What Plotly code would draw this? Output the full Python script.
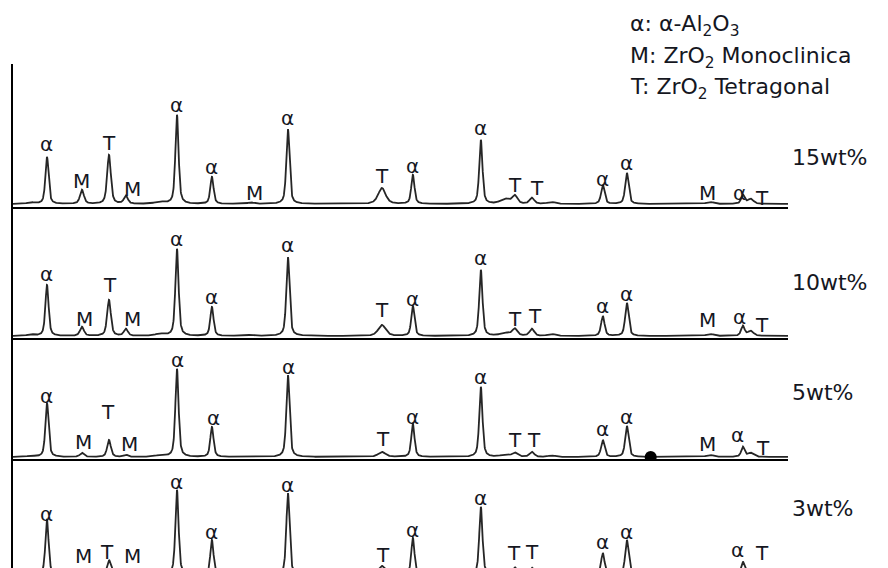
import numpy as np
import plotly.graph_objects as go

# ---------------- data ----------------
samples = ["15wt%", "10wt%", "5wt%", "3wt%"]

# peak positions (2theta, deg) and widths (FWHM, deg)
peak_pos = [24.4, 25.60, 28.17, 30.16, 31.40, 33.9, 35.16, 37.73, 40.6, 43.32,
            50.23, 52.51, 57.51, 59.3, 60.01, 61.26, 62.7, 66.48, 68.25,
            74.35, 76.78, 77.35]
peak_fwhm = [0.6, 0.28, 0.34, 0.32, 0.34, 0.8, 0.28, 0.28, 0.5, 0.28,
             0.65, 0.28, 0.28, 0.8, 0.45, 0.4, 0.6, 0.3, 0.3,
             0.6, 0.3, 0.5]

# peak intensities (a.u.) per sample
int_15 = [1.5, 47, 14, 49, 8, 2, 89, 27, 1.5, 75, 16, 29, 64, 5, 8, 6, 2, 19, 31, 2, 9, 5]
int_10 = [1.5, 51, 9, 36, 7, 2, 87, 29, 1.0, 79, 11, 30, 66, 3, 7, 7, 2, 20, 33, 2, 10, 5]
int_5 = [1.0, 54, 4, 17, 2, 1.5, 88, 30, 0.5, 82, 5, 33, 70, 2, 4, 5, 1.5, 17, 31, 2, 10, 4]
int_3 = [1.0, 55, 4, 15, 2, 1.5, 85, 35, 0.5, 82, 9, 37, 68, 2, 7, 7, 1.5, 22, 35, 1.5, 13, 4]
intensities = [int_15, int_10, int_5, int_3]

# artefact dot on the 5wt% pattern
dot_x = [70.0]
dot_y = [0.0]

# phase labels: (symbol, 2theta, height in a.u.)
labels_15 = [("α", 25.60, 60), ("M", 28.17, 23), ("T", 30.16, 61), ("M", 31.92, 15),
             ("α", 35.16, 99), ("α", 37.73, 37), ("M", 40.89, 11), ("α", 43.32, 86),
             ("T", 50.23, 28), ("α", 52.51, 38), ("α", 57.51, 76), ("T", 60.01, 19),
             ("T", 61.63, 16), ("α", 66.48, 25), ("α", 68.25, 41), ("M", 74.20, 11),
             ("α", 76.56, 11), ("T", 78.17, 6)]
labels_10 = [("α", 25.60, 62), ("M", 28.39, 17), ("T", 30.23, 51), ("M", 31.92, 17),
             ("α", 35.16, 97), ("α", 37.73, 39), ("α", 43.32, 91), ("T", 50.23, 26),
             ("α", 52.51, 37), ("α", 57.51, 78), ("T", 60.01, 17), ("T", 61.48, 20),
             ("α", 66.48, 30), ("α", 68.25, 42), ("M", 74.20, 16), ("α", 76.56, 19),
             ("T", 78.17, 11)]
labels_5 = [("α", 25.60, 61), ("M", 28.25, 15), ("T", 30.09, 45), ("M", 31.70, 13),
            ("α", 35.23, 97), ("α", 37.81, 39), ("α", 43.39, 90), ("T", 50.31, 18),
            ("α", 52.51, 40), ("α", 57.51, 80), ("T", 60.01, 17), ("T", 61.41, 17),
            ("α", 66.48, 28), ("α", 68.25, 40), ("M", 74.20, 13), ("α", 76.41, 22),
            ("T", 78.25, 9)]
labels_3 = [("α", 25.60, 61), ("M", 28.25, 19), ("T", 30.01, 23), ("M", 31.92, 19),
            ("α", 35.16, 93), ("α", 37.73, 43), ("α", 43.32, 90), ("T", 50.31, 20),
            ("α", 52.51, 45), ("α", 57.51, 77), ("T", 59.94, 22), ("T", 61.26, 23),
            ("α", 66.48, 33), ("α", 68.25, 43), ("α", 76.41, 25), ("T", 78.17, 22)]
all_labels = [labels_15, labels_10, labels_5, labels_3]

legend_lines = ["α: α-Al<sub>2</sub>O<sub>3</sub>",
                "M: ZrO<sub>2</sub> Monoclinica",
                "T: ZrO<sub>2</sub> Tetragonal"]

# ---------------- figure ----------------
W, H = 888, 568
ML, MR = 13, 100
x_range = [23.1, 80.1]
two_theta = np.linspace(x_range[0], x_range[1], 4000)


def pattern(heights):
    y = np.zeros_like(two_theta)
    for p, w, h in zip(peak_pos, peak_fwhm, heights):
        d = (two_theta - p) / (w / 2.0)
        y += h * (0.55 / (1 + d ** 2) + 0.45 * np.exp(-np.log(2) * d ** 2))
    return y


# panel pixel extents (top, bottom) and y ranges
panel_px = [(64, 207), (207, 338), (338, 459), (459, 568)]
y_ranges = [[-3, 140], [-2, 129], [-2, 119], [7, 116]]

font_family = "DejaVu Sans"
text_col = "#15171f"

fig = go.Figure()
layout = dict(width=W, height=H, margin=dict(l=ML, r=MR, t=0, b=0),
              paper_bgcolor="white", plot_bgcolor="white", showlegend=False)
annotations = []

for i, (name, ints) in enumerate(zip(samples, intensities)):
    k = "" if i == 0 else str(i + 1)
    fig.add_trace(go.Scatter(x=two_theta, y=pattern(ints), mode="lines",
                             line=dict(color="#262626", width=1.8),
                             xaxis="x" + k, yaxis="y" + k, name=name,
                             hoverinfo="skip"))
    top, bot = panel_px[i]
    layout["xaxis" + k] = dict(domain=[0, 1], anchor="y" + k, range=x_range,
                               showline=(i < 3), linecolor="black", linewidth=2,
                               showgrid=False, zeroline=False, ticks="",
                               showticklabels=False)
    layout["yaxis" + k] = dict(domain=[1 - bot / H, 1 - top / H], anchor="x" + k,
                               range=y_ranges[i], showline=True, linecolor="black",
                               linewidth=2, showgrid=False, zeroline=False,
                               ticks="", showticklabels=False)
    for sym, lx, ly in all_labels[i]:
        annotations.append(dict(x=lx, y=ly, xref="x" + k, yref="y" + k, text=sym,
                                showarrow=False, xanchor="center", yanchor="middle",
                                font=dict(family=font_family, size=20, color=text_col)))

fig.add_trace(go.Scatter(x=dot_x, y=dot_y, mode="markers", xaxis="x3", yaxis="y3",
                         marker=dict(color="black", size=12), hoverinfo="skip"))

plot_w = W - ML - MR
# sample names on the right
name_py = [158, 283, 392, 508]
for name, py in zip(samples, name_py):
    annotations.append(dict(x=(790 - ML) / plot_w, y=1 - py / H, xref="paper", yref="paper",
                            text=name, showarrow=False, xanchor="left", yanchor="middle",
                            font=dict(family=font_family, size=22, color=text_col)))
# phase key
key_py = [25, 57, 88]
for txt, py in zip(legend_lines, key_py):
    annotations.append(dict(x=(628 - ML) / plot_w, y=1 - py / H, xref="paper", yref="paper",
                            text=txt, showarrow=False, xanchor="left", yanchor="middle",
                            font=dict(family=font_family, size=22, color=text_col)))

layout["annotations"] = annotations
fig.update_layout(**layout)
fig.write_html("out.html")
